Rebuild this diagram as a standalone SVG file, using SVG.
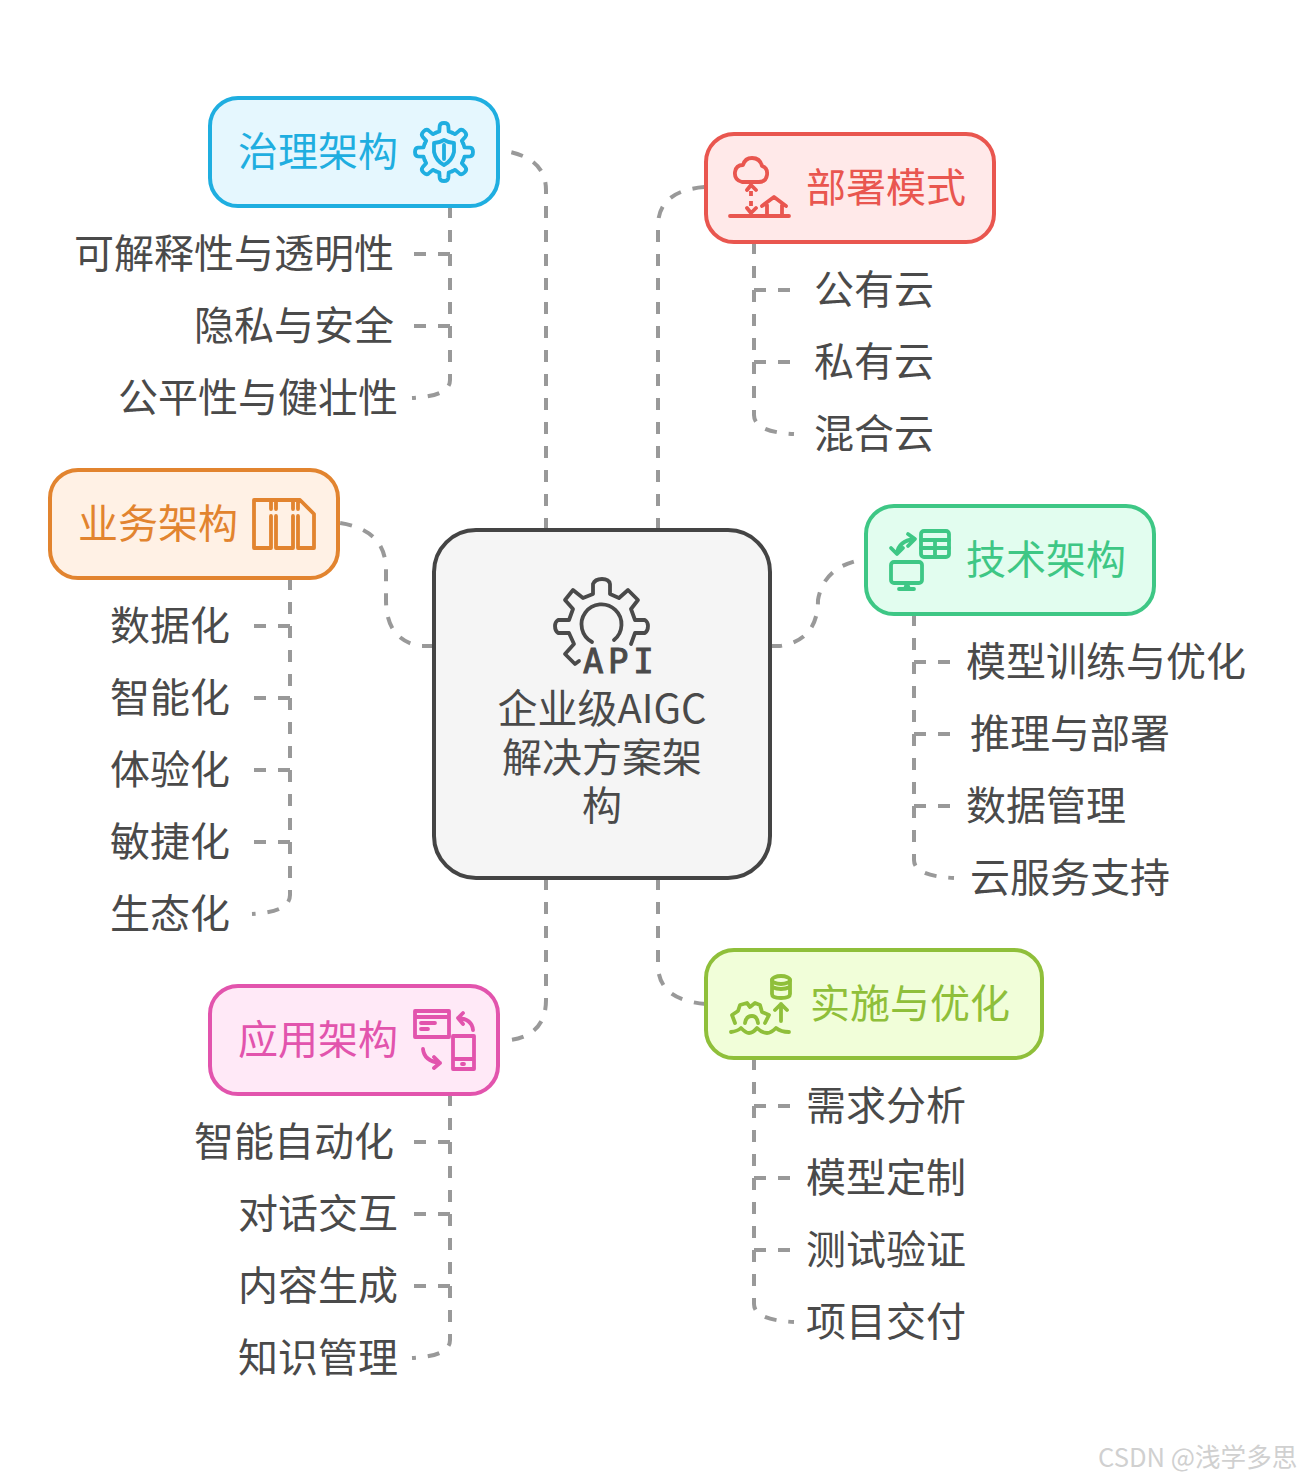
<svg xmlns="http://www.w3.org/2000/svg" width="1300" height="1480" viewBox="0 0 1300 1480">
<style>
text{font-family:"Noto Sans CJK SC","Noto Sans",sans-serif;font-size:40px;fill:#4a4a4a}
.c{fill:none;stroke:#999;stroke-width:4;stroke-dasharray:12 12}
.box{stroke-width:4}
.i{fill:none;stroke-width:3.8;stroke-linecap:round;stroke-linejoin:round}
.b{fill:#e5f7fe;stroke:#1faee0}.bt{fill:#1faee0}.bi{stroke:#1faee0}
.r{fill:#ffe9e9;stroke:#e9564f}.rt{fill:#e9564f}.ri{stroke:#e9564f}
.o{fill:#fff1e5;stroke:#e2842f}.ot{fill:#e2842f}.oi{stroke:#e2842f}
.g{fill:#e2fdef;stroke:#3ec785}.gt{fill:#3ec785}.gi{stroke:#3ec785}
.l{fill:#f1fed9;stroke:#8fbf3a}.lt{fill:#8fbf3a}.li{stroke:#8fbf3a}
.p{fill:#ffe9f7;stroke:#e254ad}.pt{fill:#e254ad}.pi{stroke:#e254ad}
</style>
<defs>
<path id="tooth" d="M-8 -19.4L-4.7 -20.5L-4.3 -26Q-4 -29 0 -29Q4 -29 4.3 -26L4.7 -20.5L8 -19.4"/>
</defs>
<g id="connectors">
<path class="c" d="M546 530V190Q546 160 510 152"/>
<path class="c" d="M658 530V226Q658 190 706 187"/>
<path class="c" d="M434 646H420Q386 640 386 600V570Q386 530 340 523"/>
<path class="c" d="M770 646H780Q818 640 818 600Q824 565 866 559"/>
<path class="c" d="M546 878V1000Q546 1035 510 1040"/>
<path class="c" d="M658 878V965Q658 1000 706 1004"/>
<path class="c" d="M450 206V380Q450 396 412 398M450 254H414M450 326H414"/>
<path class="c" d="M754 242V415Q754 432 794 434M754 290H790M754 362H790"/>
<path class="c" d="M290 578V895Q290 912 252 914M290 626H254M290 698H254M290 770H254M290 842H254"/>
<path class="c" d="M914 614V860Q914 876 954 878M914 662H950M914 734H950M914 806H950"/>
<path class="c" d="M450 1094V1340Q450 1356 412 1358M450 1142H414M450 1214H414M450 1286H414"/>
<path class="c" d="M754 1058V1304Q754 1320 794 1322M754 1106H790M754 1178H790M754 1250H790"/>
</g>
<g id="center">
<rect x="434" y="530" width="336" height="348" rx="42" fill="#f5f5f5" stroke="#444" stroke-width="4"/>
<g class="i" stroke="#4a4a4a" transform="translate(0 1)">
<path d="M592 641A20 20 0 1 1 614 639"/>
<path d="M579 660L575 663L565 653L574 643L569 632H558Q555 630 555 625Q555 621 558 619H569L573 608L565 599L573 589L583 597L593 593V583Q595 578 602 578Q609 578 610 583V593L619 597L628 589L638 599L631 608L635 619H645Q648 621 648 625Q648 630 645 632H635L631 643"/>
</g>
<text x="583" y="673" style="font-family:'DejaVu Sans Mono',monospace;font-size:34px;letter-spacing:4.6px;stroke:#4a4a4a;stroke-width:1">API</text>
<text x="602" y="722.5" text-anchor="middle">企业级AIGC</text>
<text x="602" y="771.5" text-anchor="middle">解决方案架</text>
<text x="602" y="819.5" text-anchor="middle">构</text>
</g>
<g id="n-gov">
<rect class="box b" x="210" y="98" width="288" height="108" rx="28"/>
<text class="bt" x="238" y="165.5">治理架构</text>
<g class="i bi">
<g transform="translate(444 152)">
<use href="#tooth"/><use href="#tooth" transform="rotate(45)"/><use href="#tooth" transform="rotate(90)"/><use href="#tooth" transform="rotate(135)"/><use href="#tooth" transform="rotate(180)"/><use href="#tooth" transform="rotate(225)"/><use href="#tooth" transform="rotate(270)"/><use href="#tooth" transform="rotate(315)"/>
</g>
<path d="M444 140Q439 143 434 143V152Q436 161 444 165Q452 161 454 152V143Q449 143 444 140ZM444 145V159"/>
</g>
</g>
<g id="n-deploy">
<rect class="box r" x="706" y="134" width="288" height="108" rx="28"/>
<text class="rt" x="806" y="201.5">部署模式</text>
<g class="i ri">
<path d="M742 182Q734 180 735 172Q736 165 743 165Q745 158 752 158Q760 158 762 166Q768 168 767 175Q766 182 759 182Z"/>
<path d="M751 191V209" stroke-dasharray="5 5" stroke-linecap="butt"/>
<path d="M747 190L751 185L756 190M747 208L751 213L756 208M730 216H789M767 215V205M782 215V205M762 206L774 197L786 206"/>
</g>
</g>
<g id="n-biz">
<rect class="box o" x="50" y="470" width="288" height="108" rx="28"/>
<text class="ot" x="78" y="537.5">业务架构</text>
<g class="i oi">
<path d="M254 500H300L314 514V548H298V516M298 509V500M254 500V548H271V516M271 509V500M276 500V509M276 516V548H293V516M293 509V500"/>
</g>
</g>
<g id="n-tech">
<rect class="box g" x="866" y="506" width="288" height="108" rx="28"/>
<text class="gt" x="966" y="573.5">技术架构</text>
<g class="i gi">
<rect x="921" y="531" width="28" height="26" rx="3"/>
<path d="M921 540H949M921 548H949M935 540V557"/>
<rect x="891" y="562" width="31" height="21" rx="3"/>
<path d="M907 583L905 589M907 583L909 589M899 589H914"/>
<path d="M897 553Q899 541 914 539M908 534L915 539L908 546M891 548L897 554L903 548"/>
</g>
</g>
<g id="n-impl">
<rect class="box l" x="706" y="950" width="336" height="108" rx="28"/>
<text class="lt" x="810" y="1017.5">实施与优化</text>
<g class="i li">
<ellipse cx="781" cy="980" rx="9" ry="4"/>
<path d="M772 980V994Q772 998 781 998Q790 998 790 994V980M772 987Q781 991 790 987"/>
<path d="M781 1021V1004M775 1010L781 1004L787 1010"/>
<path d="M731 1032Q738 1031 741 1028Q746 1033 749 1033Q753 1033 757 1028Q762 1033 767 1033Q771 1033 776 1028Q781 1032 789 1032"/>
<path d="M735 1023L732 1015L738 1011L740 1005L747 1003L750 1007L755 1003L760 1005L762 1012L769 1015L765 1023M745 1023Q746 1016 752 1016Q757 1016 758 1023"/>
</g>
</g>
<g id="n-app">
<rect class="box p" x="210" y="986" width="288" height="108" rx="28"/>
<text class="pt" x="238" y="1053.5">应用架构</text>
<g class="i pi">
<path d="M415 1011H449V1037H415ZM415 1017H449M421 1023H435M421 1029H428"/>
<path d="M453 1036H474V1069H453ZM453 1059H474M462 1064H464"/>
<path d="M473 1030Q472 1019 458 1018M463 1013L458 1018L463 1024M423 1049Q424 1061 440 1063M434 1057L440 1063L434 1068"/>
</g>
</g>
<g id="leaves">
<text x="74" y="267.5">可解释性与透明性</text>
<text x="194" y="339.5">隐私与安全</text>
<text x="118" y="411.5">公平性与健壮性</text>
<text x="814" y="303.5">公有云</text>
<text x="814" y="375.5">私有云</text>
<text x="814" y="447.5">混合云</text>
<text x="110" y="639.5">数据化</text>
<text x="110" y="711.5">智能化</text>
<text x="110" y="783.5">体验化</text>
<text x="110" y="855.5">敏捷化</text>
<text x="110" y="927.5">生态化</text>
<text x="966" y="675.5">模型训练与优化</text>
<text x="970" y="747.5">推理与部署</text>
<text x="966" y="819.5">数据管理</text>
<text x="970" y="891.5">云服务支持</text>
<text x="194" y="1155.5">智能自动化</text>
<text x="238" y="1227.5">对话交互</text>
<text x="238" y="1299.5">内容生成</text>
<text x="238" y="1371.5">知识管理</text>
<text x="806" y="1119.5">需求分析</text>
<text x="806" y="1191.5">模型定制</text>
<text x="806" y="1263.5">测试验证</text>
<text x="806" y="1335.5">项目交付</text>
</g>
<text x="1098" y="1467" style="font-size:25.6px;fill:#d0d0d0">CSDN @浅学多思</text>
</svg>
